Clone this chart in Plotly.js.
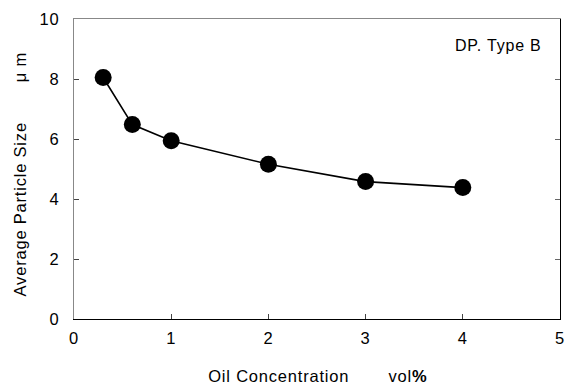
<!DOCTYPE html>
<html>
<head>
<meta charset="utf-8">
<script src="https://cdn.plot.ly/plotly-3.0.1.min.js"></script>
<style>
html,body{margin:0;padding:0;background:#fff;}
#chart{width:567px;height:385px;}
#chart text{letter-spacing:0.8px;}
</style>
</head>
<body>
<div id="chart"></div>
<script>
const oilConcentration = [0.3, 0.6, 1, 2, 3, 4];
const particleSize = [8.05, 6.48, 5.94, 5.16, 4.58, 4.38];
const xTicks = [0, 1, 2, 3, 4, 5];
const yTicks = [0, 2, 4, 6, 8, 10];

const FONT = 'Liberation Sans, Arial, sans-serif';

const trace = {
  x: oilConcentration,
  y: particleSize,
  type: 'scatter',
  mode: 'lines+markers',
  line: {color: '#000', width: 1.6},
  marker: {color: '#000', size: 17},
  showlegend: false,
  cliponaxis: false
};

const trace2 = {x: [0], y: [0], xaxis: 'x2', yaxis: 'y2', mode: 'markers', marker: {opacity: 0}, hoverinfo: 'skip', showlegend: false};

const layout = {
  width: 567, height: 385,
  margin: {l: 74, r: 7, t: 19, b: 66},
  paper_bgcolor: '#fff', plot_bgcolor: '#fff',
  font: {family: FONT, size: 16.5, color: '#000'},
  xaxis: {
    range: [0, 5], tickvals: xTicks, ticktext: xTicks.map(String),
    ticks: 'inside', ticklen: 5, tickcolor: '#444', tickwidth: 1,
    showline: true, linecolor: '#000', linewidth: 1.3,
    showgrid: false, zeroline: false, ticklabelstandoff: 4,
    tickfont: {family: FONT, size: 16.5, color: '#000'}
  },
  yaxis: {
    range: [0, 10], tickvals: yTicks, ticktext: yTicks.map(String),
    ticks: 'inside', ticklen: 5, tickcolor: '#444', tickwidth: 1,
    showline: true, linecolor: '#888', linewidth: 1.3,
    showgrid: false, zeroline: false, ticklabelstandoff: 10,
    tickfont: {family: FONT, size: 16.5, color: '#000'}
  },
  yaxis2: {
    range: [0, 10], overlaying: 'y', side: 'right', tickvals: yTicks,
    ticks: 'inside', ticklen: 5, tickcolor: '#666', showticklabels: false,
    showline: true, linecolor: '#000', linewidth: 1.3,
    showgrid: false, zeroline: false
  },
  xaxis2: {
    range: [0, 5], overlaying: 'x', side: 'top', ticks: '', showticklabels: false,
    showline: true, linecolor: '#888', linewidth: 1.3,
    showgrid: false, zeroline: false
  },
  annotations: [
    {text: 'DP. Type B', xref: 'paper', yref: 'paper', x: (540-74)/486, y: (319-45)/300, xanchor: 'right', yanchor: 'middle', showarrow: false, font: {family: FONT, size: 16, color: '#000'}},
    {text: 'Average Particle Size', xref: 'paper', yref: 'paper', x: (20-74)/486, xanchor: 'center', y: (319-210)/300, yanchor: 'middle', textangle: -90, showarrow: false, font: {family: FONT, size: 16.5, color: '#000'}},
    {text: 'μ m', xref: 'paper', yref: 'paper', x: (20-74)/486, xanchor: 'center', y: (319-67)/300, yanchor: 'middle', textangle: -90, showarrow: false, font: {family: FONT, size: 16.5, color: '#000'}},
    {text: 'Oil Concentration', xref: 'paper', yref: 'paper', x: (213-74)/486, xanchor: 'left', y: -(376-319)/300, yanchor: 'middle', showarrow: false, font: {family: FONT, size: 16.5, color: '#000'}},
    {text: 'vol<b>%</b>', xref: 'paper', yref: 'paper', x: (388-74)/486, xanchor: 'left', y: -(376-319)/300, yanchor: 'middle', showarrow: false, font: {family: FONT, size: 16.5, color: '#000'}}
  ]
};

Plotly.newPlot('chart', [trace2, trace], layout, {staticPlot: true, displayModeBar: false});
</script>
</body>
</html>
